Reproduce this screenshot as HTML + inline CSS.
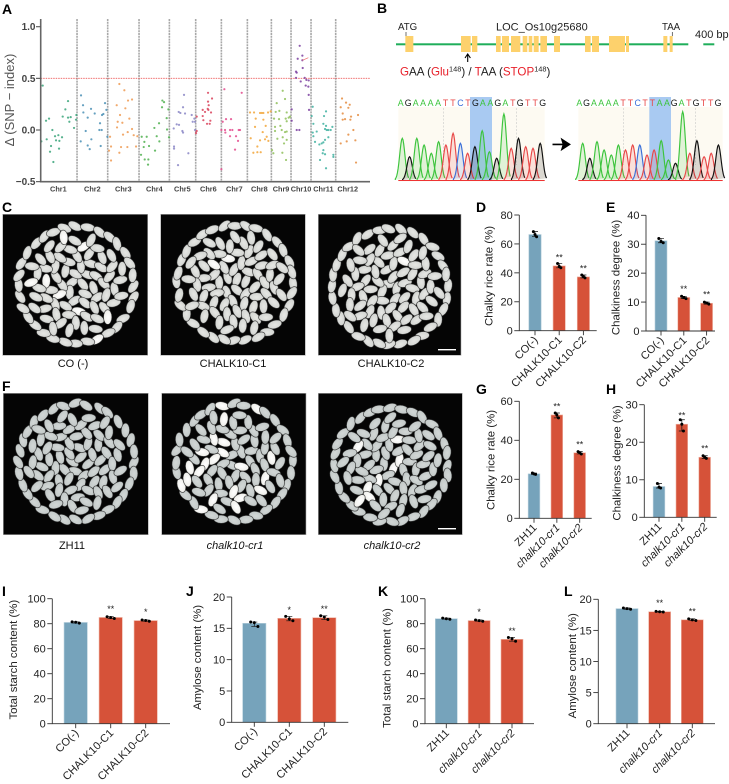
<!DOCTYPE html>
<html lang="en"><head><meta charset="utf-8"><title>CHALK10 figure</title>
<style>
html,body{margin:0;padding:0;background:#fff;width:729px;height:784px;overflow:hidden}
svg{display:block;fill:#222}
text{font-family:"Liberation Sans",Arial,sans-serif}
.pl{font-size:14px;font-weight:700;fill:#000}
.cap{font-size:11px;text-anchor:middle;fill:#111}
</style></head>
<body>
<svg id="fig" xmlns="http://www.w3.org/2000/svg" width="729" height="784" viewBox="0 0 729 784">
<defs>
<radialGradient id="gN" cx="50%" cy="45%" r="62%"><stop offset="0" stop-color="#e6e7e4"/><stop offset="0.75" stop-color="#d4d6d3"/><stop offset="1" stop-color="#aeb1af"/></radialGradient>
<radialGradient id="gC" cx="50%" cy="45%" r="62%"><stop offset="0" stop-color="#ffffff"/><stop offset="0.75" stop-color="#f0f0ec"/><stop offset="1" stop-color="#c4c6c3"/></radialGradient>
<radialGradient id="gG" cx="50%" cy="45%" r="62%"><stop offset="0" stop-color="#d2d7d6"/><stop offset="0.75" stop-color="#c4cac9"/><stop offset="1" stop-color="#a0a6a5"/></radialGradient>
<filter id="soft" x="-5%" y="-5%" width="110%" height="110%"><feGaussianBlur stdDeviation="0.3"/></filter>
</defs>
<g>
<text class="pl" x="2" y="14">A</text>
<text class="pl" x="377" y="13">B</text>
<text class="pl" x="2" y="212">C</text>
<text class="pl" x="476" y="212">D</text>
<text class="pl" x="606" y="212">E</text>
<text class="pl" x="2" y="391">F</text>
<text class="pl" x="476" y="394">G</text>
<text class="pl" x="606" y="394">H</text>
<text class="pl" x="2" y="596">I</text>
<text class="pl" x="186" y="596">J</text>
<text class="pl" x="378" y="596">K</text>
<text class="pl" x="564" y="596">L</text>
</g>
<g>
<text x="398" y="30" font-size="9.7">ATG</text>
<text x="496" y="30.5" font-size="11">LOC_Os10g25680</text>
<text x="662" y="30" font-size="9.7">TAA</text>
<text x="695" y="38" font-size="11">400 bp</text>
<text x="400" y="75.5" font-size="11.6"><tspan fill="#e8202a">G</tspan>AA (<tspan fill="#e8202a">Glu</tspan><tspan font-size="7.4" dy="-4">148</tspan><tspan dy="4">) / </tspan><tspan fill="#e8202a">T</tspan>AA (<tspan fill="#e8202a">STOP</tspan><tspan font-size="7.4" dy="-4">148</tspan><tspan dy="4">)</tspan></text>
<path d="M467.7 62V55M465 58l2.7-4 2.7 4" fill="none" stroke="#000" stroke-width="1.1"/>
<path d="M552.5 144.4H565M562 139.5l7.5 4.9-7.5 4.9 1.5-4.9z" fill="#000" stroke="#000" stroke-width="1.6"/>
</g>
<g>
<text class="cap" x="73" y="367">CO (-)</text>
<text class="cap" x="233" y="367">CHALK10-C1</text>
<text class="cap" x="391" y="367">CHALK10-C2</text>
<text class="cap" x="72" y="549">ZH11</text>
<text class="cap" x="235" y="549" font-style="italic">chalk10-cr1</text>
<text class="cap" x="392" y="549" font-style="italic">chalk10-cr2</text>
</g>
</svg>
<script>
// ---------- Panel A data: [genome position (1 unit = 0.4 Mb), delta SNP-index] ----------
const chrNames = ['Chr1','Chr2','Chr3','Chr4','Chr5','Chr6','Chr7','Chr8','Chr9','Chr10','Chr11','Chr12'];
const chrBoundaries = [231,323,417,508,587,664,742,814,873,933,1007];
const chrLabelPositions = [175,277,370,463,547,625,703,778,843,903,970,1043];
const yTicksA = [-0.5,0,0.5,1];
const thresholdA = 0.5;
const chr1 = [[128,.43],[124,-.11],[138,.09],[147,.11],[140,-.09],[150,-.21],[153,-.155],[157,0],[160,-.31],[165,-.06],[168,-.1],[175,-.05],[178,-.105],[177,-.18],[186,-.07],[188,.13],[196,.2],[204,.28],[204,.12],[208,.08],[212,.125],[222,.02],[228,.1],[229,.145]];
const chr2 = [[243,.335],[249,.24],[250,.17],[242,-.11],[257,-.01],[263,.12],[263,-.15],[269,-.185],[273,.205],[274,-.09],[284,.16],[300,.065],[298,0],[305,0],[302,-.155],[306,.145],[310,.155],[315,.26],[319,.195],[322,-.065]];
const chr3 = [[358,.445],[373,.385],[384,.285],[396,.295],[350,.24],[360,.145],[376,.21],[388,.11],[353,.08],[367,.07],[351,.025],[369,-.045],[383,-.02],[396,.01],[401,-.05],[412,-.06],[408,-.16],[382,-.165],[363,-.165],[358,-.22],[330,-.065],[333,-.16],[327,-.2],[333,-.295]];
const chr4 = [[487,.285],[492,.27],[486,.22],[505,.2],[500,.115],[501,.005],[507,-.07],[463,.02],[477,.065],[470,-.06],[478,-.11],[465,-.2],[447,-.155],[440,-.065],[425,-.065],[433,-.115],[431,-.165],[423,-.24],[434,-.285],[445,-.285],[444,-.335]];
const chr5 = [[552,.34],[549,.22],[555,.16],[536,.175],[541,.165],[575,.145],[521,.015],[530,.055],[537,.05],[522,-.16],[522,-.18],[547,-.01],[549,-.025],[534,-.34],[565,-.225],[583,.11],[578,.08],[585,.08],[585,0]];
const chr6 = [[624,.36],[636,.305],[624,.275],[608,.195],[626,.24],[623,.205],[615,.175],[633,.17],[625,.195],[608,.135],[590,.13],[631,.09],[621,.06],[629,.06],[610,.095],[590,-.01],[588,-.03]];
const chr7 = [[673,.395],[725,.36],[678,.105],[693,.105],[668,.08],[664,0],[675,0],[690,0],[697,0],[716,0],[720,0],[676,-.025],[690,-.06],[708,-.06],[714,-.105],[705,-.19],[664,-.38]];
const chr8 = [[750,.17],[762,.17],[780,.165],[785,.165],[790,.165],[804,.17],[812,.18],[767,.11],[790,.1],[765,.03],[797,.04],[788,-.02],[800,-.065],[752,-.08],[780,-.1],[795,-.09],[805,-.105],[772,-.16],[760,-.22],[772,-.215],[782,-.215]];
const chr9 = [[848,.38],[830,.26],[855,.3],[838,.185],[860,.17],[827,.175],[822,.11],[837,.105],[857,.11],[866,.12],[870,.13],[860,.085],[825,.03],[825,-.01],[841,.04],[845,0],[855,-.02],[860,-.015],[848,-.07],[832,-.085],[860,-.095],[852,-.13],[847,-.22],[816,-.195],[820,-.225],[858,-.29]];
const chr10 = [[899,.815],[907,.72],[893,.69],[907,.675],[908,.6],[888,.565],[890,.555],[888,.505],[914,.505],[902,.47],[919,.485],[926,.48],[917,.43],[925,.42],[926,.34],[875,.2],[875,.09],[927,.195],[890,0],[898,0]];
const chr11 = [[938,.225],[935,.135],[978,.18],[972,.135],[940,.06],[970,.06],[978,.04],[997,.03],[938,-.025],[950,-.015],[985,0],[992,0],[980,0],[975,.01],[940,-.06],[945,-.115],[975,-.095],[985,-.07],[970,-.12],[965,-.13],[958,-.14],[970,-.195],[968,-.225],[975,-.235],[960,-.29],[978,-.37],[1000,-.24],[1000,-.26]];
const chr12 = [[1026,.305],[1038,.265],[1049,.245],[1022,.22],[1045,.215],[1028,.16],[1074,.145],[1053,.13],[1035,.105],[1051,.1],[1028,.1],[1060,0],[1045,-.045],[1066,-.1],[1022,-.13],[1040,-.11],[1068,-.315]];

// ---------- Bar chart data ----------
const catsCO = ['CO(-)','CHALK10-C1','CHALK10-C2'];
const catsZH = ['ZH11','chalk10-cr1','chalk10-cr2'];
const starsD = ['','**','**'];
const valuesD = [66.5,44.8,37.2];
const pointsD = [[68.5,66.5,65],[46.5,44.5,43.5],[38.5,37.5,36.5]];
const ticksD = [0,20,40,60,80];
const starsE = ['','**','**'];
const valuesE = [31.2,11.6,9.6];
const pointsE = [[32,31,30.5],[12,11.6,11.2],[10,9.7,9.3]];
const ticksE = [0,10,20,30,40];
const starsG = ['','**','**'];
const valuesG = [22.8,53,33.6];
const pointsG = [[23.2,22.8,22.5],[54,53,51.5],[34.2,33.6,33]];
const ticksG = [0,20,40,60];
const starsH = ['','**','**'];
const valuesH = [8.2,24.8,16];
const pointsH = [[9,8,7.8],[26,24.8,23],[16.4,16,15.7]];
const ticksH = [0,10,20,30];
const starsI = ['','**','*'];
const valuesI = [81,85,82.5];
const pointsI = [[81.5,81.2,80.5],[85.6,85,84.2],[83,82.6,82]];
const ticksI = [0,20,40,60,80,100];
const starsJ = ['','*','**'];
const valuesJ = [15.8,16.6,16.7];
const pointsJ = [[16,15.9,15.3],[16.9,16.5,16.2],[17,16.8,16.4]];
const ticksJ = [0,5,10,15,20];
const starsK = ['','*','**'];
const valuesK = [84,82.5,67.5];
const pointsK = [[84.5,84,83.6],[83,82.5,82],[69,68,66]];
const ticksK = [0,20,40,60,80,100];
const starsL = ['','**','**'];
const valuesL = [18.5,18,16.7];
const pointsL = [[18.6,18.5,18.4],[18.05,18,17.95],[16.85,16.7,16.6]];
const ticksL = [0,5,10,15,20];

// ---------- Gene model and chromatogram data ----------
const exons = [[106,130],[273,302],[306,322],[378,392],[396,417],[423,451],[458,472],[476,487],[491,506],[511,531],[552,570],[645,662],[666,687],[717,765],[768,777],[880,892],[899,908]];
const basesLeft = 'AGAAAATTCTGAAGATGTTG';
const basesRight = 'AGAAAATTCTTAAGATGTTG';
const heightsLeft = [125,70,125,105,80,115,105,140,110,80,100,148,85,65,198,95,125,100,95,110];
const heightsRight = [110,65,115,90,75,105,90,105,105,75,90,118,60,50,205,80,118,70,80,105];
const baseColors = {A:'#3cc43c',G:'#111111',T:'#e84848',C:'#3a6fd8'};

const NS = 'http://www.w3.org/2000/svg';
const fig = document.getElementById('fig');
function mk(parent, tag, attrs, txt) {
  const n = document.createElementNS(NS, tag);
  for (const k in attrs) n.setAttribute(k, attrs[k]);
  if (txt !== undefined) n.textContent = txt;
  parent.appendChild(n);
  return n;
}
let el;

// ---------- Panel A ----------
function drawManhattan() {
  const xA = v => 40.7 + (v - 122) / 3;
  const yA = v => 130 - v * 103.3;
  const top = 19, right = 370;
  const g = mk(fig, 'g', {});
  
  
  chrBoundaries.forEach(b => {
    el = mk(g, 'line', {x1: xA(b), x2: xA(b), y1: top, y2: yA(-0.5), stroke: '#a8a8a8', 'stroke-width': 1.6, 'stroke-dasharray': '2 0.8'});
    
    
  });
  el = mk(g, 'line', {x1: 40.7, x2: right, y1: yA(thresholdA), y2: yA(thresholdA), stroke: '#ee5b5b', 'stroke-width': 0.9, 'stroke-dasharray': '1.5 1'});
  
  
  const series = [chr1,chr2,chr3,chr4,chr5,chr6,chr7,chr8,chr9,chr10,chr11,chr12];
  const colors = ['#3aa57a','#4a8fb5','#ee9a52','#4fb04f','#8a86c5','#d9425a','#e34a8c','#f2a63a','#8fbf5a','#7b3fa0','#3eb0a0','#e48c40'];
  series.forEach((s, c) => {
    s.forEach(p => {
      el = mk(g, 'circle', {cx: xA(p[0]), cy: yA(p[1]), r: 1.1, fill: colors[c], 'fill-opacity': 0.85});
      
      
    });
  });
  el = mk(g, 'line', {x1: xA(907), x2: xA(925), y1: yA(.675), y2: yA(.7), stroke: '#ee6b6b', 'stroke-width': 0.7});
  
  
  el = mk(g, 'path', {d: 'M40.7 ' + top + 'V' + yA(-0.5) + 'H' + right, fill: 'none', stroke: '#666', 'stroke-width': 1.6});
  
  
  yTicksA.forEach(t => {
    el = mk(g, 'line', {x1: 36, x2: 40.7, y1: yA(t), y2: yA(t), stroke: '#555', 'stroke-width': 1.1});
    
    
    el = mk(g, 'text', {x: 35.5, y: yA(t) + 3.5, 'text-anchor': 'end', 'font-size': 10, 'font-weight': 700, fill: '#444'}, t < 0 ? '\u2212' + Math.abs(t).toFixed(1) : t.toFixed(1));
    
    
  });
  chrNames.forEach((n, i) => {
    el = mk(g, 'text', {x: xA(chrLabelPositions[i]), y: 191.5, 'text-anchor': 'middle', 'font-size': 7.3, 'font-weight': 700, fill: '#444'}, n);
    
    
  });
  el = mk(g, 'text', {transform: 'translate(14,100) rotate(-90)', 'text-anchor': 'middle', 'font-size': 13, fill: '#555'}, '\u0394 (SNP \u2212 index)');
  
  
}

// ---------- Panel B ----------
function drawGene() {
  const xB = v => 370 + v / 3;
  const g = mk(fig, 'g', {});
  
  
  el = mk(g, 'rect', {x: 396, y: 43.3, width: 292.3, height: 2, fill: '#1fae5a'});
  
  
  exons.forEach(e => {
    el = mk(g, 'rect', {x: xB(e[0]), y: 36, width: (e[1] - e[0]) / 3, height: 16, fill: '#fdd16c'});
    
    
  });
  el = mk(g, 'rect', {x: 703.3, y: 43.3, width: 11, height: 2, fill: '#1fae5a'});
  
  
  el = mk(g, 'path', {d: 'M406 32V36M672.3 32V36', stroke: '#333', 'stroke-width': 0.7});
  
  
}
function drawTrace(name, bases, heights, x, w, hlX, hlW, peak0, peakStep, let0, letStep, dashes) {
  const g = mk(fig, 'g', {});
  
  
  const base = 180;
  el = mk(g, 'rect', {x: x, y: 107, width: w, height: 74.5, fill: '#fdfaf2'});
  
  
  el = mk(g, 'rect', {x: hlX, y: 97, width: hlW, height: 83, fill: '#a9caf2'});
  
  
  dashes.forEach(d => {
    el = mk(g, 'line', {x1: d, x2: d, y1: 108, y2: 165, stroke: '#c8c8c8', 'stroke-width': 0.6, 'stroke-dasharray': '2 1.5'});
    
    
  });
  bases.split('').forEach((b, i) => {
    const cx = peak0 + i * peakStep, h = heights[i] / 3;
    let d = 'M' + (cx - 7) + ' ' + base;
    for (let t = -7; t <= 7; t += 0.7) {
      d += 'L' + (cx + t).toFixed(1) + ' ' + (base - h * Math.exp(-t * t / (2 * 2.6 * 2.6))).toFixed(1);
    }
    el = mk(g, 'path', {d: d, fill: baseColors[b], 'fill-opacity': 0.14, stroke: baseColors[b], 'stroke-width': 1.15});
    
    
    el = mk(g, 'text', {x: let0 + i * letStep, y: 105.8, 'text-anchor': 'middle', 'font-size': 8.8, fill: baseColors[b]}, b);
    
    
  });
  el = mk(g, 'line', {x1: x, x2: x + w, y1: 180.5, y2: 180.5, stroke: '#e33', 'stroke-width': 1});
  
  
}

// ---------- Rice photographs (illustrative grains) ----------
function hash(n) { const s = Math.sin(n * 12.9898) * 43758.5453; return s - Math.floor(s); }
function drawRice(name, x, y, w, h, cx, cy, R, fill, chalky, seed, bar) {
  const g = mk(fig, 'g', {});
  
  
  el = mk(g, 'rect', {x: x, y: y, width: w, height: h, fill: '#050505', stroke: '#aaa', 'stroke-width': 0.6});
  
  
  const grains = mk(g, 'g', {filter: 'url(#soft)'});
  
  
  const ringCount = 32, innerCount = 72;
  for (let i = 0; i < ringCount + innerCount; i++) {
    const n = seed + i;
    let px, py, rot;
    if (i < ringCount) {
      const a = i / ringCount * Math.PI * 2 + (hash(n) - .5) * .06;
      const rr = R * .92 + (hash(n + 2) - .5) * 2;
      px = cx + Math.cos(a) * rr;
      py = cy + Math.sin(a) * rr;
      rot = a * 180 / Math.PI + 90 + (hash(n + 3) - .5) * 70;
    } else {
      const k = i - ringCount;
      const rr = R * .79 * Math.sqrt((k + .5) / innerCount);
      const a = k * 2.39996 + seed;
      px = cx + Math.cos(a) * rr + (hash(n + 7) - .5) * 1.2;
      py = cy + Math.sin(a) * rr + (hash(n + 9) - .5) * 1.2;
      rot = hash(n + 3) * 180;
    }
    const isC = hash(n + 11) < (i < ringCount ? chalky * .3 : chalky);
    el = mk(grains, 'ellipse', {cx: px.toFixed(1), cy: py.toFixed(1), rx: 7.3, ry: 4.2, fill: isC ? 'url(#gC)' : fill, stroke: '#1c1c1c', 'stroke-width': 0.75, 'stroke-opacity': 0.75, transform: 'rotate(' + rot.toFixed(0) + ' ' + px.toFixed(1) + ' ' + py.toFixed(1) + ')'});
    
    
  }
  if (bar) {
    el = mk(g, 'rect', {x: 438, y: bar, width: 18, height: 1.4, fill: '#fff'});
    
    
  }
}

// ---------- Bar charts ----------
function barChart(o) {
  const yS = v => o.y0 - (v - o.ticks[0]) / (o.ticks[o.ticks.length - 1] - o.ticks[0]) * (o.y0 - o.yTop);
  const xS = i => o.first + i * o.step;
  const g = mk(fig, 'g', {});
  
  
  o.values.forEach((v, i) => {
    el = mk(g, 'rect', {x: xS(i) - o.bw / 2, y: yS(v), width: o.bw, height: o.y0 - yS(v), fill: i === 0 ? '#76a3bb' : '#d65239', stroke: i === 0 ? '#b7d0dc' : '#efb7a8', 'stroke-width': 0.6});
    
    
    const pts = o.points[i];
    const lo = Math.min.apply(null, pts), hi = Math.max.apply(null, pts);
    el = mk(g, 'path', {d: 'M' + (xS(i) - 3) + ' ' + yS(hi) + 'h6M' + (xS(i) - 3) + ' ' + yS(lo) + 'h6M' + xS(i) + ' ' + yS(hi) + 'V' + yS(lo), fill: 'none', stroke: '#111', 'stroke-width': 0.7});
    
    
    pts.forEach((p, j) => {
      el = mk(g, 'circle', {cx: xS(i) + (j - 1) * o.dx, cy: yS(p), r: 1.5, fill: '#000'});
      
      
    });
    if (o.stars[i]) {
      el = mk(g, 'text', {x: xS(i), y: yS(v) - 5.5, 'text-anchor': 'middle', 'font-size': 9, fill: '#222'}, o.stars[i]);
      
      
    }
    el = mk(g, 'line', {x1: xS(i), x2: xS(i), y1: o.y0, y2: o.y0 + 4.5, stroke: '#333', 'stroke-width': 0.9});
    
    
    const tx = xS(i) + 3.5, ty = o.y0 + 10;
    el = mk(g, 'text', {x: tx, y: ty, 'text-anchor': 'end', 'font-size': 11, 'font-style': o.italic && i > 0 ? 'italic' : 'normal', transform: 'rotate(-45 ' + tx + ' ' + ty + ')'}, o.cats[i]);
    
    
  });
  el = mk(g, 'path', {d: 'M' + o.ax + ' ' + o.yTop + 'V' + o.y0 + 'H' + o.right, fill: 'none', stroke: '#333', 'stroke-width': 0.9});
  
  
  o.ticks.forEach(t => {
    el = mk(g, 'line', {x1: o.ax - 5, x2: o.ax, y1: yS(t), y2: yS(t), stroke: '#333', 'stroke-width': 0.9});
    
    
    el = mk(g, 'text', {x: o.ax - 6.5, y: yS(t) + 3.9, 'text-anchor': 'end', 'font-size': 11}, t);
    
    
  });
  el = mk(g, 'text', {transform: 'translate(' + o.tx + ',' + o.tyc + ') rotate(-90)', 'text-anchor': 'middle', 'font-size': 11.4}, o.title);
  
  
}

drawManhattan();
drawGene();
drawTrace('chromatogram-wild-type', basesLeft, heightsLeft, 398.3, 146.4, 470, 22, 402.3, 7.26, 400.7, 7.47, [443.3,516.7]);
drawTrace('chromatogram-mutant', basesRight, heightsRight, 578.3, 144.4, 649.3, 21.7, 582.7, 7.14, 579.3, 7.3, [623.3,695.7]);
drawRice('rice-photo-co', 2.7, 214.3, 145, 141, 76, 285, 63, 'url(#gN)', .06, 10, 0);
drawRice('rice-photo-chalk10-c1', 160.7, 214.3, 144.6, 141, 235, 283, 63, 'url(#gN)', .03, 200, 0);
drawRice('rice-photo-chalk10-c2', 318.3, 214.3, 142.7, 141, 390, 287, 63, 'url(#gN)', .03, 400, 349);
drawRice('rice-photo-zh11', 3.3, 393.3, 145, 141.4, 76, 462, 63, 'url(#gG)', .01, 600, 0);
drawRice('rice-photo-chalk10-cr1', 161.7, 393.3, 144.3, 141.4, 234, 462, 63, 'url(#gG)', .26, 800, 0);
drawRice('rice-photo-chalk10-cr2', 318.3, 393.3, 144, 141.4, 391, 465, 62, 'url(#gG)', .13, 1000, 528);

barChart({name:'chart-d-chalky-rice-rate',title:'Chalky rice rate (%)',cats:catsCO,values:valuesD,points:pointsD,stars:starsD,ticks:ticksD,ax:519.3,y0:330.7,yTop:215,right:596.7,first:535,step:24.2,bw:12.3,dx:1.6,tx:492.5,tyc:276});
barChart({name:'chart-e-chalkiness-degree',title:'Chalkiness degree (%)',cats:catsCO,values:valuesE,points:pointsE,stars:starsE,ticks:ticksE,ax:646,y0:331,yTop:215.3,right:715,first:661,step:22.8,bw:12,dx:2.2,tx:619.5,tyc:277.5});
barChart({name:'chart-g-chalky-rice-rate',title:'Chalky rice rate (%)',cats:catsZH,italic:true,values:valuesG,points:pointsG,stars:starsG,ticks:ticksG,ax:519.3,y0:518.3,yTop:401.3,right:591.7,first:534,step:22.85,bw:11.7,dx:1.6,tx:494.5,tyc:460});
barChart({name:'chart-h-chalkiness-degree',title:'Chalkiness degree (%)',cats:catsZH,italic:true,values:valuesH,points:pointsH,stars:starsH,ticks:ticksH,ax:644.3,y0:517.3,yTop:404.7,right:716.7,first:659,step:22.85,bw:11.7,dx:1.6,tx:620.5,tyc:463});
barChart({name:'chart-i-total-starch',title:'Total starch content (%)',cats:catsCO,values:valuesI,points:pointsI,stars:starsI,ticks:ticksI,ax:52.3,y0:723.7,yTop:598.7,right:170,first:75.7,step:35,bw:23.3,dx:3.6,tx:17,tyc:659.7});
barChart({name:'chart-j-amylose',title:'Amylose content (%)',cats:catsCO,values:valuesJ,points:pointsJ,stars:starsJ,ticks:ticksJ,ax:231.7,y0:722.3,yTop:597,right:348.3,first:254.3,step:35,bw:23.3,dx:3.6,tx:201,tyc:657.5});
barChart({name:'chart-k-total-starch',title:'Total starch content (%)',cats:catsZH,italic:true,values:valuesK,points:pointsK,stars:starsK,ticks:ticksK,ax:425,y0:723.7,yTop:598.7,right:534,first:446.3,step:32.85,bw:22,dx:3.6,tx:390.5,tyc:668});
barChart({name:'chart-l-amylose',title:'Amylose content (%)',cats:catsZH,italic:true,values:valuesL,points:pointsL,stars:starsL,ticks:ticksL,ax:598.3,y0:723.7,yTop:599.3,right:715,first:627,step:32.65,bw:22,dx:3.6,tx:576,tyc:665.8});
</script>
</body></html>
